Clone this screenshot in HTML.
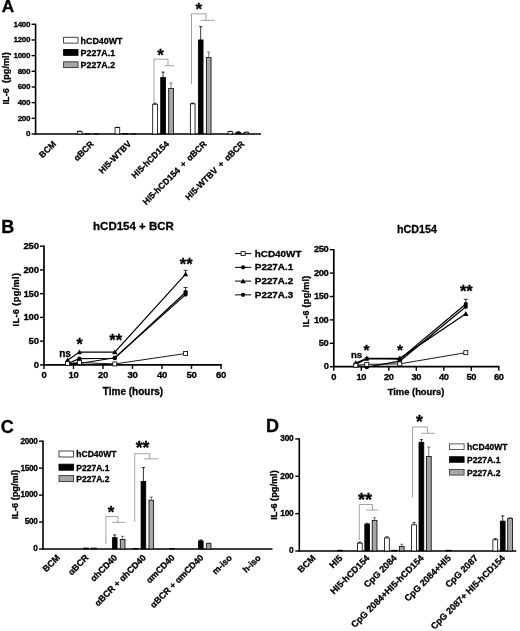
<!DOCTYPE html>
<html lang="en"><head><meta charset="utf-8"><title>Figure</title>
<style>
html,body{margin:0;padding:0;background:#fff;}
body{width:520px;height:631px;overflow:hidden;}
svg{display:block;filter:blur(0.3px);}
svg text{font-family:"Liberation Sans", Arial, Helvetica, sans-serif;fill:#000;stroke:#000;stroke-width:0.3px;}
</style></head><body>
<svg width="520" height="631" viewBox="0 0 520 631">
<rect x="0" y="0" width="520" height="631" fill="#fff" stroke="none"/>
<text x="1.8" y="12.4" font-size="17.2" text-anchor="start" font-weight="bold">A</text>
<line x1="35.6" y1="23.699999999999996" x2="35.6" y2="134.7" stroke="#000" stroke-width="1.6"/>
<line x1="31.6" y1="134.0" x2="35.6" y2="134.0" stroke="#000" stroke-width="1.4"/>
<text x="30.1" y="136.28" font-size="8.0" text-anchor="end" font-weight="bold" letter-spacing="-0.3">0</text>
<line x1="31.6" y1="118.32857142857142" x2="35.6" y2="118.32857142857142" stroke="#000" stroke-width="1.4"/>
<text x="30.1" y="120.60857142857142" font-size="8.0" text-anchor="end" font-weight="bold" letter-spacing="-0.3">200</text>
<line x1="31.6" y1="102.65714285714286" x2="35.6" y2="102.65714285714286" stroke="#000" stroke-width="1.4"/>
<text x="30.1" y="104.93714285714286" font-size="8.0" text-anchor="end" font-weight="bold" letter-spacing="-0.3">400</text>
<line x1="31.6" y1="86.98571428571428" x2="35.6" y2="86.98571428571428" stroke="#000" stroke-width="1.4"/>
<text x="30.1" y="89.26571428571428" font-size="8.0" text-anchor="end" font-weight="bold" letter-spacing="-0.3">600</text>
<line x1="31.6" y1="71.31428571428572" x2="35.6" y2="71.31428571428572" stroke="#000" stroke-width="1.4"/>
<text x="30.1" y="73.59428571428572" font-size="8.0" text-anchor="end" font-weight="bold" letter-spacing="-0.3">800</text>
<line x1="31.6" y1="55.64285714285714" x2="35.6" y2="55.64285714285714" stroke="#000" stroke-width="1.4"/>
<text x="30.1" y="57.92285714285714" font-size="8.0" text-anchor="end" font-weight="bold" letter-spacing="-0.3">1000</text>
<line x1="31.6" y1="39.97142857142856" x2="35.6" y2="39.97142857142856" stroke="#000" stroke-width="1.4"/>
<text x="30.1" y="42.25142857142856" font-size="8.0" text-anchor="end" font-weight="bold" letter-spacing="-0.3">1200</text>
<line x1="31.6" y1="24.299999999999997" x2="35.6" y2="24.299999999999997" stroke="#000" stroke-width="1.4"/>
<text x="30.1" y="26.579999999999995" font-size="8.0" text-anchor="end" font-weight="bold" letter-spacing="-0.3">1400</text>
<line x1="34.800000000000004" y1="134.0" x2="261" y2="134.0" stroke="#000" stroke-width="1.6"/>
<text x="8.6" y="78.4" font-size="9.0" text-anchor="middle" font-weight="bold" transform="rotate(-90 8.6 78.4)" textLength="52.3" lengthAdjust="spacing">IL-6 &#160;(pg/ml)</text>
<rect x="63.60" y="37.30" width="14.40" height="5.80" fill="#fff" stroke="#333" stroke-width="0.9"/>
<text x="80.6" y="43.5" font-size="8.9" text-anchor="start" font-weight="bold">hCD40WT</text>
<rect x="63.60" y="49.55" width="14.40" height="5.80" fill="#000" stroke="#000" stroke-width="0.9"/>
<text x="80.6" y="55.75" font-size="8.9" text-anchor="start" font-weight="bold">P227A.1</text>
<rect x="63.60" y="61.80" width="14.40" height="5.80" fill="#a6a6a6" stroke="#333" stroke-width="0.9"/>
<text x="80.6" y="68.0" font-size="8.9" text-anchor="start" font-weight="bold">P227A.2</text>
<rect x="77.40" y="131.49" width="4.70" height="2.51" fill="#fff" stroke="#000" stroke-width="0.8"/>
<line x1="79.75" y1="131.17914285714286" x2="79.75" y2="131.49257142857144" stroke="#000" stroke-width="0.8"/>
<line x1="78.15" y1="131.17914285714286" x2="81.35" y2="131.17914285714286" stroke="#000" stroke-width="0.8"/>
<rect x="85.40" y="133.76" width="4.70" height="0.24" fill="#000" stroke="#000" stroke-width="0.8"/>
<rect x="93.40" y="133.76" width="4.70" height="0.24" fill="#a6a6a6" stroke="#000" stroke-width="0.8"/>
<rect x="115.05" y="127.57" width="4.70" height="6.43" fill="#fff" stroke="#000" stroke-width="0.8"/>
<line x1="117.4" y1="127.26128571428572" x2="117.4" y2="127.57471428571428" stroke="#000" stroke-width="0.8"/>
<line x1="115.80000000000001" y1="127.26128571428572" x2="119.0" y2="127.26128571428572" stroke="#000" stroke-width="0.8"/>
<rect x="123.05" y="133.53" width="4.70" height="0.47" fill="#000" stroke="#000" stroke-width="0.8"/>
<rect x="131.05" y="133.76" width="4.70" height="0.24" fill="#a6a6a6" stroke="#000" stroke-width="0.8"/>
<rect x="152.70" y="104.22" width="4.70" height="29.78" fill="#fff" stroke="#000" stroke-width="0.8"/>
<line x1="155.04999999999998" y1="103.28399999999999" x2="155.04999999999998" y2="104.22428571428571" stroke="#000" stroke-width="0.8"/>
<line x1="153.45" y1="103.28399999999999" x2="156.64999999999998" y2="103.28399999999999" stroke="#000" stroke-width="0.8"/>
<rect x="160.70" y="77.58" width="4.70" height="56.42" fill="#000" stroke="#000" stroke-width="0.8"/>
<line x1="163.04999999999998" y1="72.09785714285714" x2="163.04999999999998" y2="77.58285714285714" stroke="#000" stroke-width="0.8"/>
<line x1="161.45" y1="72.09785714285714" x2="164.64999999999998" y2="72.09785714285714" stroke="#000" stroke-width="0.8"/>
<rect x="168.70" y="88.55" width="4.70" height="45.45" fill="#a6a6a6" stroke="#000" stroke-width="0.8"/>
<line x1="171.04999999999998" y1="83.06785714285715" x2="171.04999999999998" y2="88.55285714285714" stroke="#555" stroke-width="0.8"/>
<line x1="169.45" y1="83.06785714285715" x2="172.64999999999998" y2="83.06785714285715" stroke="#555" stroke-width="0.8"/>
<rect x="190.35" y="103.83" width="4.70" height="30.17" fill="#fff" stroke="#000" stroke-width="0.8"/>
<line x1="192.7" y1="103.04892857142858" x2="192.7" y2="103.8325" stroke="#000" stroke-width="0.8"/>
<line x1="191.1" y1="103.04892857142858" x2="194.29999999999998" y2="103.04892857142858" stroke="#000" stroke-width="0.8"/>
<rect x="198.35" y="39.97" width="4.70" height="94.03" fill="#000" stroke="#000" stroke-width="0.8"/>
<line x1="200.7" y1="26.650714285714287" x2="200.7" y2="39.97142857142856" stroke="#000" stroke-width="0.8"/>
<line x1="199.1" y1="26.650714285714287" x2="202.29999999999998" y2="26.650714285714287" stroke="#000" stroke-width="0.8"/>
<rect x="206.35" y="57.60" width="4.70" height="76.40" fill="#a6a6a6" stroke="#000" stroke-width="0.8"/>
<line x1="208.7" y1="52.11678571428571" x2="208.7" y2="57.60178571428571" stroke="#555" stroke-width="0.8"/>
<line x1="207.1" y1="52.11678571428571" x2="210.29999999999998" y2="52.11678571428571" stroke="#555" stroke-width="0.8"/>
<rect x="228.00" y="131.65" width="4.70" height="2.35" fill="#fff" stroke="#000" stroke-width="0.8"/>
<line x1="230.35" y1="131.33585714285715" x2="230.35" y2="131.64928571428572" stroke="#000" stroke-width="0.8"/>
<line x1="228.75" y1="131.33585714285715" x2="231.95" y2="131.33585714285715" stroke="#000" stroke-width="0.8"/>
<rect x="236.00" y="132.59" width="4.70" height="1.41" fill="#000" stroke="#000" stroke-width="0.8"/>
<line x1="238.35" y1="131.64928571428572" x2="238.35" y2="132.58957142857142" stroke="#000" stroke-width="0.8"/>
<line x1="236.75" y1="131.64928571428572" x2="239.95" y2="131.64928571428572" stroke="#000" stroke-width="0.8"/>
<rect x="244.00" y="132.28" width="4.70" height="1.72" fill="#a6a6a6" stroke="#000" stroke-width="0.8"/>
<line x1="246.35" y1="131.9627142857143" x2="246.35" y2="132.27614285714284" stroke="#555" stroke-width="0.8"/>
<line x1="244.75" y1="131.9627142857143" x2="247.95" y2="131.9627142857143" stroke="#555" stroke-width="0.8"/>
<text x="56.6" y="144.5" font-size="8.7" text-anchor="end" font-weight="bold" transform="rotate(-45 56.6 144.5)" word-spacing="1.7">BCM</text>
<text x="94.25" y="144.5" font-size="8.7" text-anchor="end" font-weight="bold" transform="rotate(-45 94.25 144.5)" word-spacing="1.7">&#945;BCR</text>
<text x="131.9" y="144.5" font-size="8.7" text-anchor="end" font-weight="bold" transform="rotate(-45 131.9 144.5)" word-spacing="1.7">HI5-WTBV</text>
<text x="169.54999999999998" y="144.5" font-size="8.7" text-anchor="end" font-weight="bold" transform="rotate(-45 169.54999999999998 144.5)" word-spacing="1.7">HI5-hCD154</text>
<text x="207.2" y="144.5" font-size="8.7" text-anchor="end" font-weight="bold" transform="rotate(-45 207.2 144.5)" word-spacing="1.7">HI5-hCD154 + &#945;BCR</text>
<text x="244.85" y="144.5" font-size="8.7" text-anchor="end" font-weight="bold" transform="rotate(-45 244.85 144.5)" word-spacing="1.7">HI5-WTBV + &#945;BCR</text>
<polyline points="154.00,103.00 154.00,59.20 168.00,59.20 168.00,65.70" fill="none" stroke="#8a8a8a" stroke-width="0.8"/>
<polyline points="164.60,65.70 174.20,65.70" fill="none" stroke="#8a8a8a" stroke-width="0.8"/>
<polyline points="191.50,84.00 191.50,13.80 206.00,13.80 206.00,20.30" fill="none" stroke="#8a8a8a" stroke-width="0.8"/>
<polyline points="200.50,20.30 214.50,20.30" fill="none" stroke="#8a8a8a" stroke-width="0.8"/>
<text x="160.5" y="60.5" font-size="17" text-anchor="middle" font-weight="bold">*</text>
<text x="198.7" y="15.0" font-size="17" text-anchor="middle" font-weight="bold">*</text>
<text x="1.2" y="233" font-size="18" text-anchor="start" font-weight="bold">B</text>
<line x1="44.0" y1="245.54999999999998" x2="44.0" y2="365.59999999999997" stroke="#000" stroke-width="1.7"/>
<line x1="40.0" y1="364.9" x2="44.0" y2="364.9" stroke="#000" stroke-width="1.4"/>
<text x="38.7" y="367.756" font-size="9.6" text-anchor="end" font-weight="bold" letter-spacing="-0.3">0</text>
<line x1="40.0" y1="341.15" x2="44.0" y2="341.15" stroke="#000" stroke-width="1.4"/>
<text x="38.7" y="344.006" font-size="9.6" text-anchor="end" font-weight="bold" letter-spacing="-0.3">50</text>
<line x1="40.0" y1="317.4" x2="44.0" y2="317.4" stroke="#000" stroke-width="1.4"/>
<text x="38.7" y="320.256" font-size="9.6" text-anchor="end" font-weight="bold" letter-spacing="-0.3">100</text>
<line x1="40.0" y1="293.65" x2="44.0" y2="293.65" stroke="#000" stroke-width="1.4"/>
<text x="38.7" y="296.506" font-size="9.6" text-anchor="end" font-weight="bold" letter-spacing="-0.3">150</text>
<line x1="40.0" y1="269.9" x2="44.0" y2="269.9" stroke="#000" stroke-width="1.4"/>
<text x="38.7" y="272.756" font-size="9.6" text-anchor="end" font-weight="bold" letter-spacing="-0.3">200</text>
<line x1="40.0" y1="246.14999999999998" x2="44.0" y2="246.14999999999998" stroke="#000" stroke-width="1.4"/>
<text x="38.7" y="249.00599999999997" font-size="9.6" text-anchor="end" font-weight="bold" letter-spacing="-0.3">250</text>
<line x1="43.15" y1="364.9" x2="221.9" y2="364.9" stroke="#000" stroke-width="1.7"/>
<line x1="44.0" y1="364.9" x2="44.0" y2="368.9" stroke="#000" stroke-width="1.4"/>
<text x="44.0" y="378.2" font-size="9.6" text-anchor="middle" font-weight="bold" letter-spacing="-0.3">0</text>
<line x1="73.5" y1="364.9" x2="73.5" y2="368.9" stroke="#000" stroke-width="1.4"/>
<text x="73.5" y="378.2" font-size="9.6" text-anchor="middle" font-weight="bold" letter-spacing="-0.3">10</text>
<line x1="103.0" y1="364.9" x2="103.0" y2="368.9" stroke="#000" stroke-width="1.4"/>
<text x="103.0" y="378.2" font-size="9.6" text-anchor="middle" font-weight="bold" letter-spacing="-0.3">20</text>
<line x1="132.5" y1="364.9" x2="132.5" y2="368.9" stroke="#000" stroke-width="1.4"/>
<text x="132.5" y="378.2" font-size="9.6" text-anchor="middle" font-weight="bold" letter-spacing="-0.3">30</text>
<line x1="162.0" y1="364.9" x2="162.0" y2="368.9" stroke="#000" stroke-width="1.4"/>
<text x="162.0" y="378.2" font-size="9.6" text-anchor="middle" font-weight="bold" letter-spacing="-0.3">40</text>
<line x1="191.5" y1="364.9" x2="191.5" y2="368.9" stroke="#000" stroke-width="1.4"/>
<text x="191.5" y="378.2" font-size="9.6" text-anchor="middle" font-weight="bold" letter-spacing="-0.3">50</text>
<line x1="221.0" y1="364.9" x2="221.0" y2="368.9" stroke="#000" stroke-width="1.4"/>
<text x="221.0" y="378.2" font-size="9.6" text-anchor="middle" font-weight="bold" letter-spacing="-0.3">60</text>
<text x="133.0" y="395.0" font-size="10.0" text-anchor="middle" font-weight="bold">Time (hours)</text>
<text x="19.0" y="299.7" font-size="9.2" text-anchor="middle" font-weight="bold" transform="rotate(-90 19.0 299.7)" textLength="53.6" lengthAdjust="spacing">IL-6 (pg/ml)</text>
<text x="133.5" y="230.0" font-size="11.5" text-anchor="middle" font-weight="bold">hCD154 + BCR</text>
<polyline points="67.60,363.95 79.40,363.47 114.80,357.77 185.60,294.60" fill="none" stroke="#000" stroke-width="1.2"/>
<line x1="185.60000000000002" y1="294.59999999999997" x2="185.60000000000002" y2="291.74999999999994" stroke="#000" stroke-width="0.8"/>
<line x1="183.60000000000002" y1="291.74999999999994" x2="187.60000000000002" y2="291.74999999999994" stroke="#000" stroke-width="0.8"/>
<circle cx="67.60" cy="363.95" r="2.1" fill="#000"/>
<circle cx="79.40" cy="363.47" r="2.1" fill="#000"/>
<circle cx="114.80" cy="357.77" r="2.1" fill="#000"/>
<circle cx="185.60" cy="294.60" r="2.1" fill="#000"/>
<polyline points="67.60,360.15 79.40,352.07 114.80,352.07 185.60,274.17" fill="none" stroke="#000" stroke-width="1.2"/>
<line x1="185.60000000000002" y1="274.17499999999995" x2="185.60000000000002" y2="270.37499999999994" stroke="#000" stroke-width="0.8"/>
<line x1="183.60000000000002" y1="270.37499999999994" x2="187.60000000000002" y2="270.37499999999994" stroke="#000" stroke-width="0.8"/>
<polygon points="67.60,357.45 64.90,362.25 70.30,362.25" fill="#000"/>
<polygon points="79.40,349.38 76.70,354.18 82.10,354.18" fill="#000"/>
<polygon points="114.80,349.38 112.10,354.18 117.50,354.18" fill="#000"/>
<polygon points="185.60,271.47 182.90,276.27 188.30,276.27" fill="#000"/>
<polyline points="67.60,363.47 79.40,358.72 114.80,358.25 185.60,292.22" fill="none" stroke="#000" stroke-width="1.2"/>
<line x1="185.60000000000002" y1="292.22499999999997" x2="185.60000000000002" y2="287.47499999999997" stroke="#000" stroke-width="0.8"/>
<line x1="183.60000000000002" y1="287.47499999999997" x2="187.60000000000002" y2="287.47499999999997" stroke="#000" stroke-width="0.8"/>
<circle cx="67.60" cy="363.47" r="2.1" fill="#000"/>
<circle cx="79.40" cy="358.72" r="2.1" fill="#000"/>
<circle cx="114.80" cy="358.25" r="2.1" fill="#000"/>
<circle cx="185.60" cy="292.22" r="2.1" fill="#000"/>
<polyline points="67.60,363.47 79.40,362.52 114.80,363.95 185.60,353.50" fill="none" stroke="#000" stroke-width="0.9"/>
<rect x="65.60" y="361.47" width="4.0" height="4.0" fill="#fff" stroke="#000" stroke-width="0.8"/>
<rect x="77.40" y="360.52" width="4.0" height="4.0" fill="#fff" stroke="#000" stroke-width="0.8"/>
<rect x="112.80" y="361.95" width="4.0" height="4.0" fill="#fff" stroke="#000" stroke-width="0.8"/>
<rect x="183.60" y="351.50" width="4.0" height="4.0" fill="#fff" stroke="#000" stroke-width="0.8"/>
<text x="65.0" y="356.6" font-size="10" text-anchor="middle" font-weight="bold">ns</text>
<text x="79.5" y="350.0" font-size="16" text-anchor="middle" font-weight="bold">*</text>
<text x="115.7" y="345.5" font-size="16.5" text-anchor="middle" font-weight="bold">**</text>
<text x="186.2" y="270.0" font-size="16.5" text-anchor="middle" font-weight="bold">**</text>
<line x1="333.8" y1="249.1" x2="333.8" y2="367.4" stroke="#000" stroke-width="1.7"/>
<line x1="329.8" y1="366.7" x2="333.8" y2="366.7" stroke="#000" stroke-width="1.4"/>
<text x="328.5" y="369.448" font-size="9.3" text-anchor="end" font-weight="bold" letter-spacing="-0.3">0</text>
<line x1="329.8" y1="343.3" x2="333.8" y2="343.3" stroke="#000" stroke-width="1.4"/>
<text x="328.5" y="346.048" font-size="9.3" text-anchor="end" font-weight="bold" letter-spacing="-0.3">50</text>
<line x1="329.8" y1="319.9" x2="333.8" y2="319.9" stroke="#000" stroke-width="1.4"/>
<text x="328.5" y="322.64799999999997" font-size="9.3" text-anchor="end" font-weight="bold" letter-spacing="-0.3">100</text>
<line x1="329.8" y1="296.5" x2="333.8" y2="296.5" stroke="#000" stroke-width="1.4"/>
<text x="328.5" y="299.248" font-size="9.3" text-anchor="end" font-weight="bold" letter-spacing="-0.3">150</text>
<line x1="329.8" y1="273.09999999999997" x2="333.8" y2="273.09999999999997" stroke="#000" stroke-width="1.4"/>
<text x="328.5" y="275.84799999999996" font-size="9.3" text-anchor="end" font-weight="bold" letter-spacing="-0.3">200</text>
<line x1="329.8" y1="249.7" x2="333.8" y2="249.7" stroke="#000" stroke-width="1.4"/>
<text x="328.5" y="252.448" font-size="9.3" text-anchor="end" font-weight="bold" letter-spacing="-0.3">250</text>
<line x1="332.95" y1="366.7" x2="499.40000000000003" y2="366.7" stroke="#000" stroke-width="1.7"/>
<line x1="333.8" y1="366.7" x2="333.8" y2="370.7" stroke="#000" stroke-width="1.4"/>
<text x="333.8" y="380.0" font-size="9.3" text-anchor="middle" font-weight="bold" letter-spacing="-0.3">0</text>
<line x1="361.3" y1="366.7" x2="361.3" y2="370.7" stroke="#000" stroke-width="1.4"/>
<text x="361.3" y="380.0" font-size="9.3" text-anchor="middle" font-weight="bold" letter-spacing="-0.3">10</text>
<line x1="388.8" y1="366.7" x2="388.8" y2="370.7" stroke="#000" stroke-width="1.4"/>
<text x="388.8" y="380.0" font-size="9.3" text-anchor="middle" font-weight="bold" letter-spacing="-0.3">20</text>
<line x1="416.3" y1="366.7" x2="416.3" y2="370.7" stroke="#000" stroke-width="1.4"/>
<text x="416.3" y="380.0" font-size="9.3" text-anchor="middle" font-weight="bold" letter-spacing="-0.3">30</text>
<line x1="443.8" y1="366.7" x2="443.8" y2="370.7" stroke="#000" stroke-width="1.4"/>
<text x="443.8" y="380.0" font-size="9.3" text-anchor="middle" font-weight="bold" letter-spacing="-0.3">40</text>
<line x1="471.3" y1="366.7" x2="471.3" y2="370.7" stroke="#000" stroke-width="1.4"/>
<text x="471.3" y="380.0" font-size="9.3" text-anchor="middle" font-weight="bold" letter-spacing="-0.3">50</text>
<line x1="498.8" y1="366.7" x2="498.8" y2="370.7" stroke="#000" stroke-width="1.4"/>
<text x="498.8" y="380.0" font-size="9.3" text-anchor="middle" font-weight="bold" letter-spacing="-0.3">60</text>
<text x="416.0" y="395.0" font-size="9.4" text-anchor="middle" font-weight="bold">Time (hours)</text>
<text x="309.0" y="301.5" font-size="9.0" text-anchor="middle" font-weight="bold" transform="rotate(-90 309.0 301.5)" textLength="51.6" lengthAdjust="spacing">IL-6 (pg/ml)</text>
<text x="417.0" y="232.5" font-size="10.7" text-anchor="middle" font-weight="bold">hCD154</text>
<polyline points="355.80,365.76 366.80,367.17 399.80,361.08 465.80,306.80" fill="none" stroke="#000" stroke-width="1.2"/>
<circle cx="355.80" cy="365.76" r="2.1" fill="#000"/>
<circle cx="366.80" cy="367.17" r="2.1" fill="#000"/>
<circle cx="399.80" cy="361.08" r="2.1" fill="#000"/>
<circle cx="465.80" cy="306.80" r="2.1" fill="#000"/>
<polyline points="355.80,362.96 366.80,358.28 399.80,358.28 465.80,313.82" fill="none" stroke="#000" stroke-width="1.2"/>
<polygon points="355.80,360.26 353.10,365.06 358.50,365.06" fill="#000"/>
<polygon points="366.80,355.58 364.10,360.38 369.50,360.38" fill="#000"/>
<polygon points="399.80,355.58 397.10,360.38 402.50,360.38" fill="#000"/>
<polygon points="465.80,311.12 463.10,315.92 468.50,315.92" fill="#000"/>
<polyline points="355.80,364.36 366.80,358.74 399.80,359.21 465.80,303.99" fill="none" stroke="#000" stroke-width="1.2"/>
<line x1="465.8" y1="303.988" x2="465.8" y2="299.308" stroke="#000" stroke-width="0.8"/>
<line x1="463.8" y1="299.308" x2="467.8" y2="299.308" stroke="#000" stroke-width="0.8"/>
<circle cx="355.80" cy="364.36" r="2.1" fill="#000"/>
<circle cx="366.80" cy="358.74" r="2.1" fill="#000"/>
<circle cx="399.80" cy="359.21" r="2.1" fill="#000"/>
<circle cx="465.80" cy="303.99" r="2.1" fill="#000"/>
<polyline points="355.80,365.30 366.80,364.36 399.80,363.89 465.80,352.66" fill="none" stroke="#000" stroke-width="0.9"/>
<rect x="353.80" y="363.30" width="4.0" height="4.0" fill="#fff" stroke="#000" stroke-width="0.8"/>
<rect x="364.80" y="362.36" width="4.0" height="4.0" fill="#fff" stroke="#000" stroke-width="0.8"/>
<rect x="397.80" y="361.89" width="4.0" height="4.0" fill="#fff" stroke="#000" stroke-width="0.8"/>
<rect x="463.80" y="350.66" width="4.0" height="4.0" fill="#fff" stroke="#000" stroke-width="0.8"/>
<text x="356.6" y="358.3" font-size="9.6" text-anchor="middle" font-weight="bold">ns</text>
<text x="366.5" y="355" font-size="15.5" text-anchor="middle" font-weight="bold">*</text>
<text x="400.0" y="355.2" font-size="15.5" text-anchor="middle" font-weight="bold">*</text>
<text x="466.3" y="296.5" font-size="16.5" text-anchor="middle" font-weight="bold">**</text>
<line x1="235" y1="253.6" x2="251.3" y2="253.6" stroke="#000" stroke-width="1.0"/>
<rect x="241.10" y="251.60" width="4.0" height="4.0" fill="#fff" stroke="#000" stroke-width="0.8"/>
<text x="254.8" y="256.5" font-size="9.9" text-anchor="start" font-weight="bold">hCD40WT</text>
<line x1="235" y1="267.35" x2="251.3" y2="267.35" stroke="#000" stroke-width="1.0"/>
<circle cx="243.10" cy="267.35" r="2.1" fill="#000"/>
<text x="254.8" y="270.25" font-size="9.9" text-anchor="start" font-weight="bold">P227A.1</text>
<line x1="235" y1="281.1" x2="251.3" y2="281.1" stroke="#000" stroke-width="1.0"/>
<polygon points="243.10,278.40 240.40,283.20 245.80,283.20" fill="#000"/>
<text x="254.8" y="284.0" font-size="9.9" text-anchor="start" font-weight="bold">P227A.2</text>
<line x1="235" y1="294.85" x2="251.3" y2="294.85" stroke="#000" stroke-width="1.0"/>
<circle cx="243.10" cy="294.85" r="2.1" fill="#000"/>
<text x="254.8" y="297.75" font-size="9.9" text-anchor="start" font-weight="bold">P227A.3</text>
<text x="0.8" y="432.5" font-size="18" text-anchor="start" font-weight="bold">C</text>
<line x1="43.0" y1="440.59999999999997" x2="43.0" y2="549.7" stroke="#000" stroke-width="1.6"/>
<line x1="39.0" y1="549.0" x2="43.0" y2="549.0" stroke="#000" stroke-width="1.4"/>
<text x="37.400000000000006" y="551.352" font-size="8.2" text-anchor="end" font-weight="bold" letter-spacing="-0.3">0</text>
<line x1="39.0" y1="522.05" x2="43.0" y2="522.05" stroke="#000" stroke-width="1.4"/>
<text x="37.400000000000006" y="524.4019999999999" font-size="8.2" text-anchor="end" font-weight="bold" letter-spacing="-0.3">500</text>
<line x1="39.0" y1="495.1" x2="43.0" y2="495.1" stroke="#000" stroke-width="1.4"/>
<text x="37.400000000000006" y="497.452" font-size="8.2" text-anchor="end" font-weight="bold" letter-spacing="-0.3">1000</text>
<line x1="39.0" y1="468.15" x2="43.0" y2="468.15" stroke="#000" stroke-width="1.4"/>
<text x="37.400000000000006" y="470.50199999999995" font-size="8.2" text-anchor="end" font-weight="bold" letter-spacing="-0.3">1500</text>
<line x1="39.0" y1="441.2" x2="43.0" y2="441.2" stroke="#000" stroke-width="1.4"/>
<text x="37.400000000000006" y="443.55199999999996" font-size="8.2" text-anchor="end" font-weight="bold" letter-spacing="-0.3">2000</text>
<line x1="42.2" y1="549.0" x2="272.5" y2="549.0" stroke="#000" stroke-width="1.6"/>
<text x="17.6" y="494.5" font-size="9.2" text-anchor="middle" font-weight="bold" transform="rotate(-90 17.6 494.5)">IL-6 (pg/ml)</text>
<rect x="59.00" y="451.00" width="14.60" height="6.00" fill="#fff" stroke="#333" stroke-width="0.9"/>
<text x="76.3" y="457.4" font-size="8.5" text-anchor="start" font-weight="bold">hCD40WT</text>
<rect x="59.00" y="464.20" width="14.60" height="6.00" fill="#000" stroke="#000" stroke-width="0.9"/>
<text x="76.3" y="470.59999999999997" font-size="8.5" text-anchor="start" font-weight="bold">P227A.1</text>
<rect x="59.00" y="475.60" width="14.60" height="6.00" fill="#a6a6a6" stroke="#333" stroke-width="0.9"/>
<text x="76.3" y="482.0" font-size="8.5" text-anchor="start" font-weight="bold">P227A.2</text>
<rect x="83.68" y="548.03" width="4.70" height="0.97" fill="#000" stroke="#000" stroke-width="0.8"/>
<rect x="91.58" y="548.03" width="4.70" height="0.97" fill="#a6a6a6" stroke="#000" stroke-width="0.8"/>
<rect x="112.37" y="537.68" width="4.70" height="11.32" fill="#000" stroke="#000" stroke-width="0.8"/>
<line x1="114.71875" y1="534.8782" x2="114.71875" y2="537.681" stroke="#000" stroke-width="0.8"/>
<line x1="113.11875" y1="534.8782" x2="116.31875" y2="534.8782" stroke="#000" stroke-width="0.8"/>
<rect x="120.27" y="539.57" width="4.70" height="9.43" fill="#a6a6a6" stroke="#000" stroke-width="0.8"/>
<line x1="122.61875" y1="536.3335" x2="122.61875" y2="539.5675" stroke="#555" stroke-width="0.8"/>
<line x1="121.01875000000001" y1="536.3335" x2="124.21875" y2="536.3335" stroke="#555" stroke-width="0.8"/>
<rect x="133.16" y="548.35" width="4.70" height="0.65" fill="#fff" stroke="#000" stroke-width="0.8"/>
<rect x="141.06" y="481.36" width="4.70" height="67.64" fill="#000" stroke="#000" stroke-width="0.8"/>
<line x1="143.40625" y1="467.611" x2="143.40625" y2="481.3555" stroke="#000" stroke-width="0.8"/>
<line x1="141.80625" y1="467.611" x2="145.00625" y2="467.611" stroke="#000" stroke-width="0.8"/>
<rect x="148.96" y="500.22" width="4.70" height="48.78" fill="#a6a6a6" stroke="#000" stroke-width="0.8"/>
<line x1="151.30625" y1="496.9865" x2="151.30625" y2="500.2205" stroke="#555" stroke-width="0.8"/>
<line x1="149.70625" y1="496.9865" x2="152.90625" y2="496.9865" stroke="#555" stroke-width="0.8"/>
<rect x="169.74" y="548.46" width="4.70" height="0.54" fill="#000" stroke="#000" stroke-width="0.8"/>
<rect x="198.43" y="540.91" width="4.70" height="8.09" fill="#000" stroke="#000" stroke-width="0.8"/>
<line x1="200.78125" y1="539.9448" x2="200.78125" y2="540.915" stroke="#000" stroke-width="0.8"/>
<line x1="199.18125" y1="539.9448" x2="202.38125" y2="539.9448" stroke="#000" stroke-width="0.8"/>
<rect x="206.33" y="543.61" width="4.70" height="5.39" fill="#a6a6a6" stroke="#000" stroke-width="0.8"/>
<line x1="208.68125" y1="542.9632" x2="208.68125" y2="543.61" stroke="#555" stroke-width="0.8"/>
<line x1="207.08125" y1="542.9632" x2="210.28125" y2="542.9632" stroke="#555" stroke-width="0.8"/>
<text x="60.44375" y="558.3" font-size="8.9" text-anchor="end" font-weight="bold" transform="rotate(-45 60.44375 558.3)">BCM</text>
<text x="89.13125" y="558.3" font-size="8.9" text-anchor="end" font-weight="bold" transform="rotate(-45 89.13125 558.3)">&#945;BCR</text>
<text x="117.81875" y="558.3" font-size="8.9" text-anchor="end" font-weight="bold" transform="rotate(-45 117.81875 558.3)">&#945;hCD40</text>
<text x="146.50625" y="558.3" font-size="8.9" text-anchor="end" font-weight="bold" transform="rotate(-45 146.50625 558.3)">&#945;BCR + &#945;hCD40</text>
<text x="175.19375" y="558.3" font-size="8.9" text-anchor="end" font-weight="bold" transform="rotate(-45 175.19375 558.3)">&#945;mCD40</text>
<text x="203.88125" y="558.3" font-size="8.9" text-anchor="end" font-weight="bold" transform="rotate(-45 203.88125 558.3)">&#945;BCR + &#945;mCD40</text>
<text x="232.56875" y="558.3" font-size="8.9" text-anchor="end" font-weight="bold" transform="rotate(-45 232.56875 558.3)">m-iso</text>
<text x="261.25625" y="558.3" font-size="8.9" text-anchor="end" font-weight="bold" transform="rotate(-45 261.25625 558.3)">h-iso</text>
<polyline points="105.90,544.00 105.90,516.50 118.00,516.50 118.00,522.30" fill="none" stroke="#8a8a8a" stroke-width="0.8"/>
<polyline points="112.00,522.30 125.00,522.30" fill="none" stroke="#8a8a8a" stroke-width="0.8"/>
<polyline points="134.70,522.00 134.70,453.70 149.70,453.70 149.70,458.80" fill="none" stroke="#8a8a8a" stroke-width="0.8"/>
<polyline points="144.00,458.80 158.40,458.80" fill="none" stroke="#8a8a8a" stroke-width="0.8"/>
<text x="111" y="518.0" font-size="17" text-anchor="middle" font-weight="bold">*</text>
<text x="142.5" y="453.7" font-size="17.5" text-anchor="middle" font-weight="bold">**</text>
<text x="266.0" y="431.5" font-size="18" text-anchor="start" font-weight="bold">D</text>
<line x1="299.3" y1="438.29999999999995" x2="299.3" y2="551.7" stroke="#000" stroke-width="1.6"/>
<line x1="295.3" y1="551.0" x2="299.3" y2="551.0" stroke="#000" stroke-width="1.4"/>
<text x="293.4" y="553.424" font-size="8.4" text-anchor="end" font-weight="bold" letter-spacing="-0.3">0</text>
<line x1="295.3" y1="513.6333333333333" x2="299.3" y2="513.6333333333333" stroke="#000" stroke-width="1.4"/>
<text x="293.4" y="516.0573333333333" font-size="8.4" text-anchor="end" font-weight="bold" letter-spacing="-0.3">100</text>
<line x1="295.3" y1="476.26666666666665" x2="299.3" y2="476.26666666666665" stroke="#000" stroke-width="1.4"/>
<text x="293.4" y="478.69066666666663" font-size="8.4" text-anchor="end" font-weight="bold" letter-spacing="-0.3">200</text>
<line x1="295.3" y1="438.9" x2="299.3" y2="438.9" stroke="#000" stroke-width="1.4"/>
<text x="293.4" y="441.32399999999996" font-size="8.4" text-anchor="end" font-weight="bold" letter-spacing="-0.3">300</text>
<line x1="298.5" y1="551.0" x2="516.3" y2="551.0" stroke="#000" stroke-width="1.6"/>
<text x="276.6" y="495" font-size="9.2" text-anchor="middle" font-weight="bold" transform="rotate(-90 276.6 495)">IL-6 (pg/ml)</text>
<rect x="449.50" y="443.90" width="14.60" height="5.60" fill="#fff" stroke="#333" stroke-width="0.8"/>
<text x="467" y="449.9" font-size="8.6" text-anchor="start" font-weight="bold">hCD40WT</text>
<rect x="449.50" y="456.70" width="14.60" height="5.60" fill="#000" stroke="#000" stroke-width="0.8"/>
<text x="467" y="462.7" font-size="8.6" text-anchor="start" font-weight="bold">P227A.1</text>
<rect x="449.50" y="469.50" width="14.60" height="5.60" fill="#a6a6a6" stroke="#333" stroke-width="0.8"/>
<text x="467" y="475.5" font-size="8.6" text-anchor="start" font-weight="bold">P227A.2</text>
<rect x="337.70" y="550.25" width="4.80" height="0.75" fill="#000" stroke="#000" stroke-width="0.8"/>
<rect x="357.40" y="543.15" width="4.80" height="7.85" fill="#fff" stroke="#000" stroke-width="0.8"/>
<line x1="359.8" y1="542.032" x2="359.8" y2="543.153" stroke="#000" stroke-width="0.8"/>
<line x1="358.2" y1="542.032" x2="361.40000000000003" y2="542.032" stroke="#000" stroke-width="0.8"/>
<rect x="364.80" y="524.10" width="4.80" height="26.90" fill="#000" stroke="#000" stroke-width="0.8"/>
<line x1="367.2" y1="523.3486666666666" x2="367.2" y2="524.096" stroke="#000" stroke-width="0.8"/>
<line x1="365.59999999999997" y1="523.3486666666666" x2="368.8" y2="523.3486666666666" stroke="#000" stroke-width="0.8"/>
<rect x="372.20" y="520.36" width="4.80" height="30.64" fill="#a6a6a6" stroke="#000" stroke-width="0.8"/>
<line x1="374.59999999999997" y1="517.7436666666666" x2="374.59999999999997" y2="520.3593333333333" stroke="#555" stroke-width="0.8"/>
<line x1="372.99999999999994" y1="517.7436666666666" x2="376.2" y2="517.7436666666666" stroke="#555" stroke-width="0.8"/>
<rect x="384.50" y="537.92" width="4.80" height="13.08" fill="#fff" stroke="#000" stroke-width="0.8"/>
<line x1="386.90000000000003" y1="536.8006666666666" x2="386.90000000000003" y2="537.9216666666666" stroke="#000" stroke-width="0.8"/>
<line x1="385.3" y1="536.8006666666666" x2="388.50000000000006" y2="536.8006666666666" stroke="#000" stroke-width="0.8"/>
<rect x="391.90" y="550.25" width="4.80" height="0.75" fill="#000" stroke="#000" stroke-width="0.8"/>
<rect x="399.30" y="546.52" width="4.80" height="4.48" fill="#a6a6a6" stroke="#000" stroke-width="0.8"/>
<line x1="401.7" y1="544.274" x2="401.7" y2="546.516" stroke="#555" stroke-width="0.8"/>
<line x1="400.09999999999997" y1="544.274" x2="403.3" y2="544.274" stroke="#555" stroke-width="0.8"/>
<rect x="411.60" y="524.84" width="4.80" height="26.16" fill="#fff" stroke="#000" stroke-width="0.8"/>
<line x1="414.0" y1="522.6013333333333" x2="414.0" y2="524.8433333333334" stroke="#000" stroke-width="0.8"/>
<line x1="412.4" y1="522.6013333333333" x2="415.6" y2="522.6013333333333" stroke="#000" stroke-width="0.8"/>
<rect x="419.00" y="442.26" width="4.80" height="108.74" fill="#000" stroke="#000" stroke-width="0.8"/>
<line x1="421.4" y1="439.64733333333334" x2="421.4" y2="442.263" stroke="#000" stroke-width="0.8"/>
<line x1="419.79999999999995" y1="439.64733333333334" x2="423.0" y2="439.64733333333334" stroke="#000" stroke-width="0.8"/>
<rect x="426.40" y="456.46" width="4.80" height="94.54" fill="#a6a6a6" stroke="#000" stroke-width="0.8"/>
<line x1="428.79999999999995" y1="447.12066666666664" x2="428.79999999999995" y2="456.4623333333333" stroke="#555" stroke-width="0.8"/>
<line x1="427.19999999999993" y1="447.12066666666664" x2="430.4" y2="447.12066666666664" stroke="#555" stroke-width="0.8"/>
<rect x="446.10" y="550.25" width="4.80" height="0.75" fill="#000" stroke="#000" stroke-width="0.8"/>
<rect x="492.90" y="539.79" width="4.80" height="11.21" fill="#fff" stroke="#000" stroke-width="0.8"/>
<line x1="495.30000000000007" y1="538.669" x2="495.30000000000007" y2="539.79" stroke="#000" stroke-width="0.8"/>
<line x1="493.70000000000005" y1="538.669" x2="496.9000000000001" y2="538.669" stroke="#000" stroke-width="0.8"/>
<rect x="500.30" y="521.11" width="4.80" height="29.89" fill="#000" stroke="#000" stroke-width="0.8"/>
<line x1="502.70000000000005" y1="515.8753333333333" x2="502.70000000000005" y2="521.1066666666667" stroke="#000" stroke-width="0.8"/>
<line x1="501.1" y1="515.8753333333333" x2="504.30000000000007" y2="515.8753333333333" stroke="#000" stroke-width="0.8"/>
<rect x="507.70" y="518.49" width="4.80" height="32.51" fill="#a6a6a6" stroke="#000" stroke-width="0.8"/>
<line x1="510.1" y1="517.7436666666666" x2="510.1" y2="518.491" stroke="#555" stroke-width="0.8"/>
<line x1="508.5" y1="517.7436666666666" x2="511.70000000000005" y2="517.7436666666666" stroke="#555" stroke-width="0.8"/>
<text x="316.0" y="558.7" font-size="9.1" text-anchor="end" font-weight="bold" transform="rotate(-45 316.0 558.7)">BCM</text>
<text x="343.1" y="558.7" font-size="9.1" text-anchor="end" font-weight="bold" transform="rotate(-45 343.1 558.7)">HI5</text>
<text x="370.2" y="558.7" font-size="9.1" text-anchor="end" font-weight="bold" transform="rotate(-45 370.2 558.7)">HI5-hCD154</text>
<text x="397.3" y="558.7" font-size="9.1" text-anchor="end" font-weight="bold" transform="rotate(-45 397.3 558.7)">CpG 2084</text>
<text x="424.4" y="558.7" font-size="9.1" text-anchor="end" font-weight="bold" transform="rotate(-45 424.4 558.7)">CpG 2084+HI5-hCD154</text>
<text x="451.5" y="558.7" font-size="9.1" text-anchor="end" font-weight="bold" transform="rotate(-45 451.5 558.7)">CpG 2084+HI5</text>
<text x="478.6" y="558.7" font-size="9.1" text-anchor="end" font-weight="bold" transform="rotate(-45 478.6 558.7)">CpG 2087</text>
<text x="505.70000000000005" y="558.7" font-size="9.1" text-anchor="end" font-weight="bold" transform="rotate(-45 505.70000000000005 558.7)">CpG 2087+ HI5-hCD154</text>
<polyline points="359.30,540.00 359.30,504.50 372.50,504.50 372.50,510.00" fill="none" stroke="#8a8a8a" stroke-width="0.8"/>
<polyline points="366.30,510.00 378.80,510.00" fill="none" stroke="#8a8a8a" stroke-width="0.8"/>
<polyline points="412.50,497.50 412.50,427.00 427.50,427.00 427.50,433.30" fill="none" stroke="#8a8a8a" stroke-width="0.8"/>
<polyline points="421.30,433.30 435.00,433.30" fill="none" stroke="#8a8a8a" stroke-width="0.8"/>
<text x="365" y="506.0" font-size="18" text-anchor="middle" font-weight="bold">**</text>
<text x="419.3" y="428.3" font-size="17.5" text-anchor="middle" font-weight="bold">*</text>
</svg>
</body></html>
